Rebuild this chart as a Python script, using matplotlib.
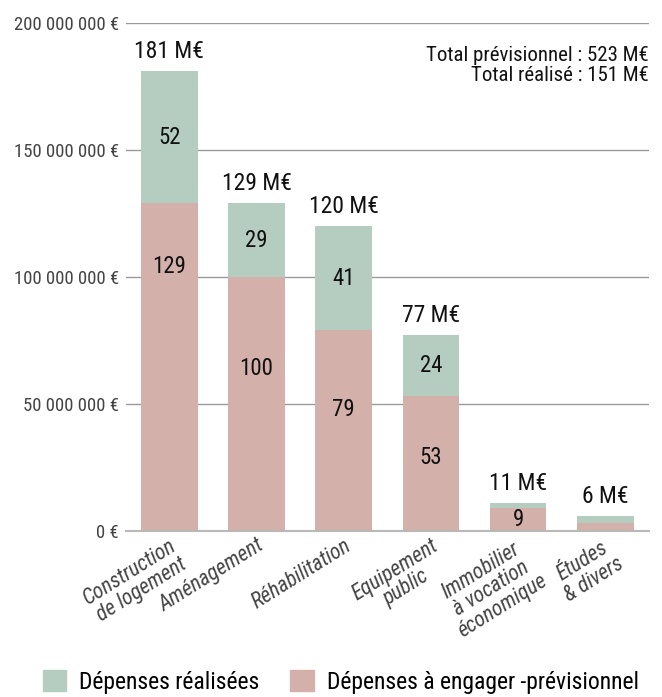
import matplotlib.pyplot as plt
from matplotlib.patches import Patch
from matplotlib.ticker import FuncFormatter, MultipleLocator

plt.rcParams['font.family'] = ['Roboto Condensed', 'Liberation Sans Narrow', 'Roboto', 'DejaVu Sans']

# montants en millions d'euros
categories = ["Construction\nde logement", "Aménagement", "Réhabilitation",
              "Equipement\npublic", "Immobilier\nà vocation\néconomique", "Études\n& divers"]
realise = [52, 29, 41, 24, 2, 3]
a_engager = [129, 100, 79, 53, 9, 3]
totaux = [181, 129, 120, 77, 11, 6]
montrer_detail = [True, True, True, True, True, False]
# hauteur (M€) où s'affiche le chiffre de la part à engager
pos_label_engager = [104, 64, 48, 29, 4.5]

GREEN = "#b5cdc0"
PINK = "#d4b0aa"

fig = plt.figure(figsize=(6.62, 6.97), dpi=100)
ax = fig.add_axes([0.190, 0.238, 0.790, 0.729])

x = range(len(categories))
ax.bar(x, a_engager, width=0.65, color=PINK, zorder=2)
ax.bar(x, realise, width=0.65, bottom=a_engager, color=GREEN, zorder=2)

for i in x:
    ax.annotate(f"{totaux[i]} M€", (i, a_engager[i] + realise[i]),
                xytext=(0, 6), textcoords="offset points",
                ha="center", va="bottom", fontsize=17, color="#111")
    if montrer_detail[i]:
        ax.text(i, pos_label_engager[i], str(a_engager[i]), ha="center",
                va="center", fontsize=16.5, color="#111", zorder=3)
        if realise[i] > 5:
            ax.text(i, a_engager[i] + realise[i] / 2, str(realise[i]),
                    ha="center", va="center", fontsize=16.5, color="#111", zorder=3)

ax.text(1.0, 0.955, "Total prévisionnel : 523 M€\nTotal réalisé : 151 M€",
        transform=ax.transAxes, ha="right", va="top", fontsize=15,
        color="#111", linespacing=1.05, multialignment="right")

ax.set_xlim(-0.5, len(categories) - 0.5)
ax.set_ylim(0, 200)
ax.yaxis.set_major_locator(MultipleLocator(50))
ax.yaxis.set_major_formatter(FuncFormatter(
    lambda v, _: f"{int(v * 1e6):,}".replace(",", " ") + " €"))
ax.grid(axis="y", color="#9a9a9a", lw=1, zorder=0)
ax.tick_params(axis="y", length=0, pad=5, labelsize=13.5, labelcolor="#444")
ax.tick_params(axis="x", length=0, pad=3)
for s in ["top", "right", "left"]:
    ax.spines[s].set_visible(False)
ax.spines["bottom"].set_color("#b8b8b8")
ax.spines["bottom"].set_linewidth(1.5)

ax.set_xticks(list(x))
ax.set_xticklabels(categories, rotation=32, ha="right", va="top",
                   rotation_mode="anchor", fontsize=15.5, style="italic",
                   color="#444", multialignment="center", linespacing=1.0)

handles = [Patch(color=GREEN, label="Dépenses réalisées"),
           Patch(color=PINK, label="Dépenses à engager -prévisionnel")]
fig.legend(handles=handles, loc="lower center", bbox_to_anchor=(0.515, -0.026),
           ncol=2, frameon=False, fontsize=17, handlelength=1.0,
           handleheight=1.0, handletextpad=0.55, columnspacing=1.3)

fig.savefig("out.png", dpi=100)
